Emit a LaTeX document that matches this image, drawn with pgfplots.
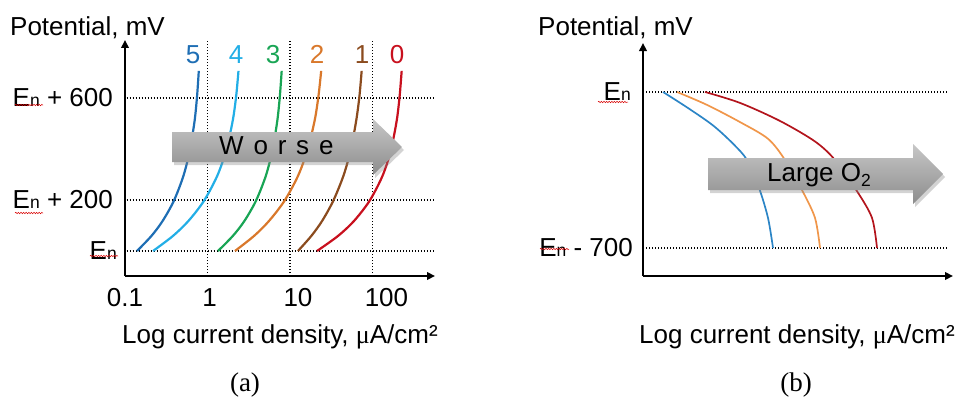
\documentclass[border=0pt]{standalone}
\usepackage{pgfplots}
\pgfplotsset{compat=1.18}
\usepackage{fontspec}
\setmainfont{Liberation Sans}
\newfontfamily\serif{Liberation Serif}
\usetikzlibrary{arrows.meta,decorations.pathmorphing,shadows}
\definecolor{c5}{RGB}{30,110,180}
\definecolor{c4}{RGB}{34,174,230}
\definecolor{c3}{RGB}{25,165,85}
\definecolor{c2}{RGB}{217,120,43}
\definecolor{c1}{RGB}{139,75,30}
\definecolor{c0}{RGB}{200,16,30}
\definecolor{bblue}{RGB}{44,133,198}
\definecolor{borange}{RGB}{240,150,74}
\definecolor{bred}{RGB}{179,20,28}
\newcommand\fs{\fontsize{26bp}{31bp}\selectfont}
\newcommand\En{E{\fontsize{17.5bp}{17.5bp}\selectfont n}}
\tikzset{griddot/.style={line width=1.3bp, dash pattern=on 1.3bp off 1.7bp},
 squig/.style={red!85!black, line width=0.5bp, decorate, decoration={snake, amplitude=0.7bp, segment length=2.6bp}}}
\pgfplotsset{
 myax/.style={scale only axis, anchor=south west, axis lines=left, clip=false,
   axis line style={line width=2bp, -{Triangle[length=8bp,width=7.5bp]}},
   major tick length=0pt, minor tick length=0pt, tick style={draw=none},
   ticklabel style={font=\fs, inner sep=0pt},
   every axis plot/.append style={smooth, no marks}}
}
\begin{document}
\begin{tikzpicture}[x=1bp,y=1bp]
\useasboundingbox (0,0) rectangle (960,398);
% ---------------- panel (a)
\begin{axis}[myax, at={(125bp,122bp)}, width=310bp, height=236bp,
 xmode=log, xmin=0.1, xmax=573, ymin=-98, ymax=827,
 xtick={0.1,1,10,100},
 xticklabels={0.1,{\hspace*{4bp}1},{\hspace*{16bp}10},{\hspace*{28bp}100}},
 ytick={0,200,600},
 yticklabels={{\En\hspace*{-4bp}},{\En\ + 200},{\En\ + 600}},
 xticklabel style={anchor=north, yshift=-12bp},
 yticklabel style={anchor=east, xshift=-12bp}]
\draw[griddot] (axis cs:1,-98) -- (axis cs:1,827);
\draw[griddot] (axis cs:10,-98) -- (axis cs:10,827);
\draw[griddot] (axis cs:100,-98) -- (axis cs:100,827);
\draw[griddot] (axis cs:0.105,0) -- (axis cs:541,0);
\draw[griddot] (axis cs:0.105,200) -- (axis cs:541,200);
\draw[griddot] (axis cs:0.105,600) -- (axis cs:541,600);
\addplot[c5, line width=2.2bp] coordinates {(0.1398,0) (0.2089,58.8) (0.2856,117.6) (0.3904,196.1) (0.5104,294.1) (0.6085,392.2) (0.6976,509.8) (0.7481,607.8) (0.7844,705.9)};
\addplot[c4, line width=2.2bp] coordinates {(0.2185,0) (0.3808,58.8) (0.5868,117.6) (0.9044,196.1) (1.311,294.1) (1.676,392.2) (2.020,509.8) (2.228,607.8) (2.375,705.9)};
\addplot[c3, line width=2.2bp] coordinates {(1.341,0) (2.026,58.8) (2.801,117.6) (3.861,196.1) (5.090,294.1) (6.102,392.2) (7.015,509.8) (7.544,607.8) (7.932,705.9)};
\addplot[c2, line width=2.2bp] coordinates {(2.154,0) (3.661,58.8) (5.565,117.6) (8.553,196.1) (12.50,294.1) (16.16,392.2) (19.87,509.8) (22.16,607.8) (23.89,705.9)};
\addplot[c1, line width=2.2bp] coordinates {(12.50,0) (18.12,58.8) (24.50,117.6) (33.39,196.1) (44.39,294.1) (54.12,392.2) (63.44,509.8) (69.56,607.8) (73.96,705.9)};
\addplot[c0, line width=2.2bp] coordinates {(21.25,0) (38.18,58.8) (59.68,117.6) (91.97,196.1) (132.2,294.1) (166.2,392.2) (196.5,509.8) (213.6,607.8) (225.9,705.9)};
\end{axis}
% ---------------- panel (b)
\begin{axis}[myax, at={(643bp,122bp)}, width=310bp, height=233bp,
 xmin=0, xmax=310, ymin=-825.5, ymax=219.7,
 xtick=\empty, ytick={-700,0},
 yticklabels={{\En\ - 700\hspace*{-5bp}},{\En\hspace*{-3bp}}},
 yticklabel style={anchor=east, xshift=-15bp}]
\draw[griddot] (axis cs:3,0) -- (axis cs:305,0);
\draw[griddot] (axis cs:3,-700) -- (axis cs:305,-700);
\addplot[bblue, line width=1.7bp] coordinates {(20,0) (45,-72) (70,-150) (90,-232) (104,-305) (116,-430) (125,-565) (130,-700)};
\addplot[borange, line width=1.7bp] coordinates {(34,0) (64,-58) (97,-135) (125,-210) (142,-305) (159,-440) (172,-565) (177,-700)};
\addplot[bred, line width=1.7bp] coordinates {(62,0) (97,-49) (137,-130) (172,-222) (192,-305) (214,-445) (229,-565) (234,-700)};
\end{axis}
% ---------------- arrows
\path[drop shadow={opacity=0.35, shadow xshift=2bp, shadow yshift=-3bp}, top color=black!22, bottom color=black!45]
  (172,266) -- (373,266) -- (373,279) -- (402,251) -- (373,223) -- (373,236) -- (172,236) -- cycle;
\node[anchor=base west, font=\fs, inner sep=0pt] at (219,244) {W\hspace{9.8bp}o\hspace{9.8bp}r\hspace{9.8bp}s\hspace{9.8bp}e};
\path[drop shadow={opacity=0.35, shadow xshift=2bp, shadow yshift=-3bp}, top color=black!22, bottom color=black!45]
  (708,240) -- (913,240) -- (913,254) -- (943,224) -- (913,194) -- (913,208) -- (708,208) -- cycle;
\node[anchor=base west, font=\fs, inner sep=0pt] at (767,217) {Large O\raisebox{-5bp}{\fontsize{17.5bp}{17.5bp}\selectfont 2}};
% ---------------- curve numbers
\node[anchor=base, font=\fs, text=c5, inner sep=0pt] at (193,335) {5};
\node[anchor=base, font=\fs, text=c4, inner sep=0pt] at (236,335) {4};
\node[anchor=base, font=\fs, text=c3, inner sep=0pt] at (273,335) {3};
\node[anchor=base, font=\fs, text=c2, inner sep=0pt] at (317,335) {2};
\node[anchor=base, font=\fs, text=c1, inner sep=0pt] at (362,335) {1};
\node[anchor=base, font=\fs, text=c0, inner sep=0pt] at (397,335) {0};
% ---------------- axis titles and captions
\node[anchor=base west, font=\fs, inner sep=0pt] at (10,363) {Potential, mV};
\node[anchor=base west, font=\fs, inner sep=0pt] at (538,363) {Potential, mV};
\node[anchor=base west, font=\fs, inner sep=0pt] at (122,55) {Log current density, {\serif μ}A/cm²};
\node[anchor=base west, font=\fs, inner sep=0pt] at (639,55) {Log current density, {\serif μ}A/cm²};
\node[anchor=base, inner sep=0pt] at (245,7) {\serif\fontsize{27bp}{31bp}\selectfont (a)};
\node[anchor=base, inner sep=0pt] at (796,7) {\serif\fontsize{27bp}{31bp}\selectfont (b)};
% ---------------- spell-check squiggles
\draw[squig] (15,293) -- (43,293);
\draw[squig] (15,185) -- (43,185);
\draw[squig] (90,142) -- (118,142);
\draw[squig] (598,296) -- (628,296);
\draw[squig] (540,149) -- (569,149);
\end{tikzpicture}
\end{document}
